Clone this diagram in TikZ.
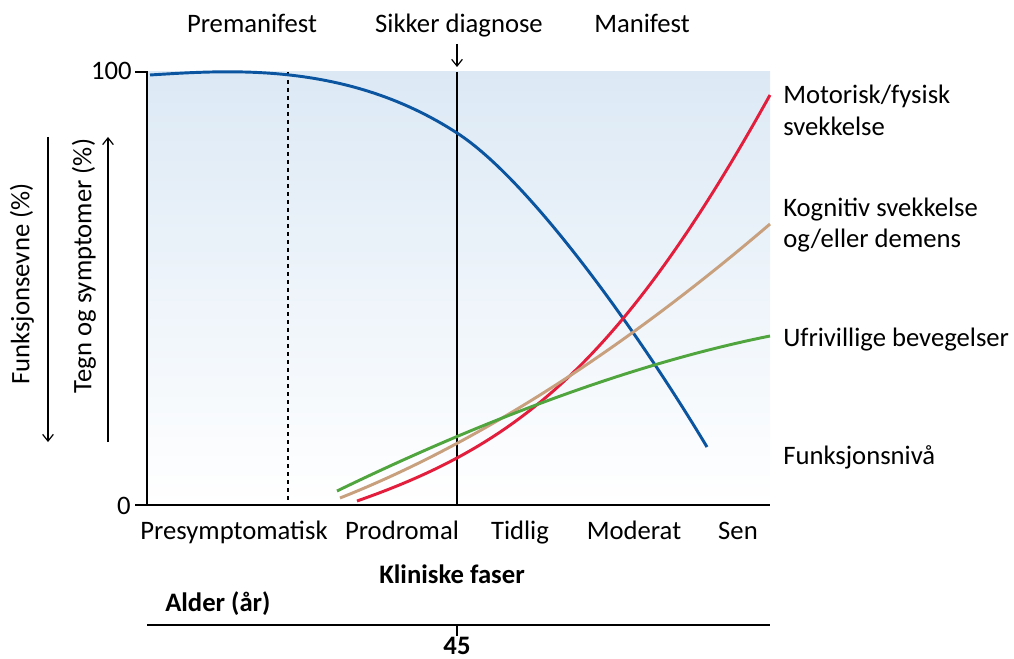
\documentclass[tikz,border=0pt]{standalone}
\usepackage{fontspec}
\setmainfont{Carlito}
\usepackage{tikz}
\usetikzlibrary{arrows.meta, calc}
\definecolor{funcblue}{RGB}{10,84,160}
\definecolor{motorred}{RGB}{226,30,60}
\definecolor{cogtan}{RGB}{200,160,126}
\definecolor{movegreen}{RGB}{80,165,62}
\definecolor{areablue}{RGB}{220,233,245}

\begin{document}
\begin{tikzpicture}[x=0.75pt, y=-0.75pt, font=\fontsize{20}{24}\selectfont,
    curve/.style={line width=2.2pt},
    lbl/.style={anchor=base, inner sep=0pt},
    sidelbl/.style={anchor=base west, inner sep=0pt},
    axisarrow/.style={-{Straight Barb[length=5pt, width=8pt]}, line width=0.9pt}]
    \useasboundingbox (0,0) rectangle (1014,659);
    % Plot corners
    \coordinate (tl) at (147,72);
    \coordinate (bl) at (147,505);
    \coordinate (br) at (770,505);
    % Shaded area
    \shade[top color=areablue, bottom color=white] (tl) rectangle (br);
    % Axes and ticks
    \draw[line width=0.9pt] (135,72) -- (tl) -- (bl) -- (br);
    \draw[line width=0.9pt] (135,505) -- (bl);
    \node[anchor=base east, inner sep=0pt] (y100) at (132,80) {100};
    \node[anchor=base east, inner sep=0pt] (y0) at (131,514) {0};
    % Phase borders
    \draw[dashed, line width=0.8pt] (288,72) -- (288,505);
    \draw[line width=0.9pt] (457,72) -- (457,505);
    % Top labels
    \node[lbl] (premani) at (252,33) {Premanifest};
    \node[lbl] (diag) at (459,33) {Sikker diagnose};
    \node[lbl] (mani) at (642,33) {Manifest};
    \coordinate (diagtip) at (457,67);
    \draw[axisarrow] (457,44) -- (diagtip);
    % Curves
    \draw[curve, funcblue] (150,75) .. controls (230,70) and (347,61.5) .. (457,133)
        .. controls (530,180) and (640,335) .. (707,447);
    \draw[curve, motorred] (357,501) .. controls (517,445) and (620,365) .. (770,95);
    \draw[curve, cogtan] (340,498) .. controls (482,442) and (630,344) .. (770,224);
    \draw[curve, movegreen] (337,491) .. controls (477,423) and (630,364) .. (770,336);
    % Curve labels
    \node[sidelbl] (motor1) at (783,104) {Motorisk/fysisk};
    \node[sidelbl] (motor2) at (783,136) {svekkelse};
    \node[sidelbl] (cog1) at (783,217) {Kognitiv svekkelse};
    \node[sidelbl] (cog2) at (783,248) {og/eller demens};
    \node[sidelbl] (move) at (783,347) {Ufrivillige bevegelser};
    \node[sidelbl] (func) at (783,464) {Funksjonsnivå};
    % Left axis labels
    \node[rotate=90, inner sep=0pt] (funcaxis) at (22,284) {Funksjonsevne (\%)};
    \node[rotate=90, inner sep=0pt] (signaxis) at (84,266) {Tegn og symptomer (\%)};
    \draw[axisarrow] (48,137) -- (48,442);
    \draw[axisarrow] (108,442) -- (108,137);
    % Clinical phases
    \foreach \x/\t in {234/Presymptomatisk, 402/Prodromal, 520/Tidlig, 634/Moderat, 738/Sen} {
        \node[lbl] (phase\x) at (\x,539) {\t};
    }
    \node[lbl, font=\fontsize{20}{24}\selectfont\bfseries] (faser) at (452,583) {Kliniske faser};
    \node[anchor=base west, inner sep=0pt, font=\fontsize{20}{24}\selectfont\bfseries] (alder) at (165,611) {Alder (år)};
    % Age line
    \draw[line width=0.9pt] (147,625) -- (770,625);
    \draw[line width=0.9pt] (457,625) -- (457,636);
    \node[lbl, font=\fontsize{20}{24}\selectfont\bfseries] (age45) at (457,654) {45};
\end{tikzpicture}
\end{document}
